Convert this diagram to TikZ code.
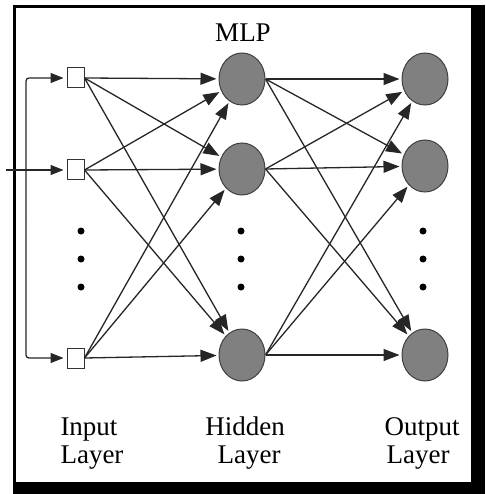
\documentclass[tikz,border=0pt]{standalone}
\usepackage{fontspec}
\setmainfont{Liberation Serif}
\usetikzlibrary{arrows.meta,shapes.geometric}
\tikzset{
  neuron/.style={ellipse,draw=black!75,line width=1pt,fill=black!50,minimum width=46pt,minimum height=52pt,inner sep=0pt},
  inbox/.style={rectangle,draw=black!80,line width=1pt,fill=white,minimum width=17pt,minimum height=20pt,inner sep=0pt},
  bigtip/.tip={Triangle[length=16pt,width=12pt]},
  feedtip/.tip={Triangle[length=13pt,width=10pt]},
  conn/.style={draw=black!85,line width=1.3pt,-bigtip,shorten >=2pt},
  feed/.style={draw=black!85,line width=1.3pt,-feedtip,shorten >=3pt,rounded corners=3pt},
  vdot/.style={circle,fill=black,inner sep=0pt,minimum size=7pt},
  lbl/.style={font=\fontsize{27}{29}\selectfont,anchor=base,inner sep=0pt}
}
\begin{document}
\begin{tikzpicture}[x=1pt,y=-1pt]
\useasboundingbox (0,0) rectangle (485,494);
% frame
\fill[black] (472,5) rectangle (485,494);
\fill[black] (13,482) rectangle (485,494);
\draw[line width=2.5pt] (14.5,6.5) rectangle (472,483);
% nodes
\node[inbox] (i1) at (75.5,78) {};
\node[inbox] (i2) at (75.5,170) {};
\node[inbox] (i3) at (75.5,358) {};
\node[neuron] (h1) at (242,79) {};
\node[neuron] (h2) at (242,169) {};
\node[neuron] (h3) at (242,355) {};
\node[neuron] (o1) at (425,79) {};
\node[neuron] (o2) at (425,166) {};
\node[neuron] (o3) at (425,355) {};
% dots
\node[vdot] (di1) at (81,231) {};
\node[vdot] (di2) at (81,259) {};
\node[vdot] (di3) at (81,287) {};
\node[vdot] (dh1) at (241,231) {};
\node[vdot] (dh2) at (241,259) {};
\node[vdot] (dh3) at (241,287) {};
\node[vdot] (do1) at (423,231) {};
\node[vdot] (do2) at (423,259) {};
\node[vdot] (do3) at (423,287) {};
% labels
\node[lbl] (mlp) at (243,42) {MLP};
\node[lbl] (il1) at (89,435) {Input};
\node[lbl] (il2) at (92,463) {Layer};
\node[lbl] (hl1) at (245,435) {Hidden};
\node[lbl] (hl2) at (249,463) {Layer};
\node[lbl] (ol1) at (422,435) {Output};
\node[lbl] (ol2) at (418,463) {Layer};
% input feed
\coordinate (src) at (6,170);
\coordinate (bus) at (26,217);
\draw[feed] (src) -- (i2.west);
\draw[feed] (bus) -- (bus |- i1.west) -- (i1.west);
\draw[feed] (bus) -- (bus |- i3.west) -- (i3.west);
% input -> hidden
\foreach \a in {i1,i2,i3}{
  \foreach \b in {h1,h2,h3}{
    \draw[conn] (\a.east) -- (\b);
  }
}
% hidden -> output
\foreach \a in {h1,h2,h3}{
  \foreach \b in {o1,o2,o3}{
    \draw[conn] (\a.east) -- (\b);
  }
}
\end{tikzpicture}
\end{document}
